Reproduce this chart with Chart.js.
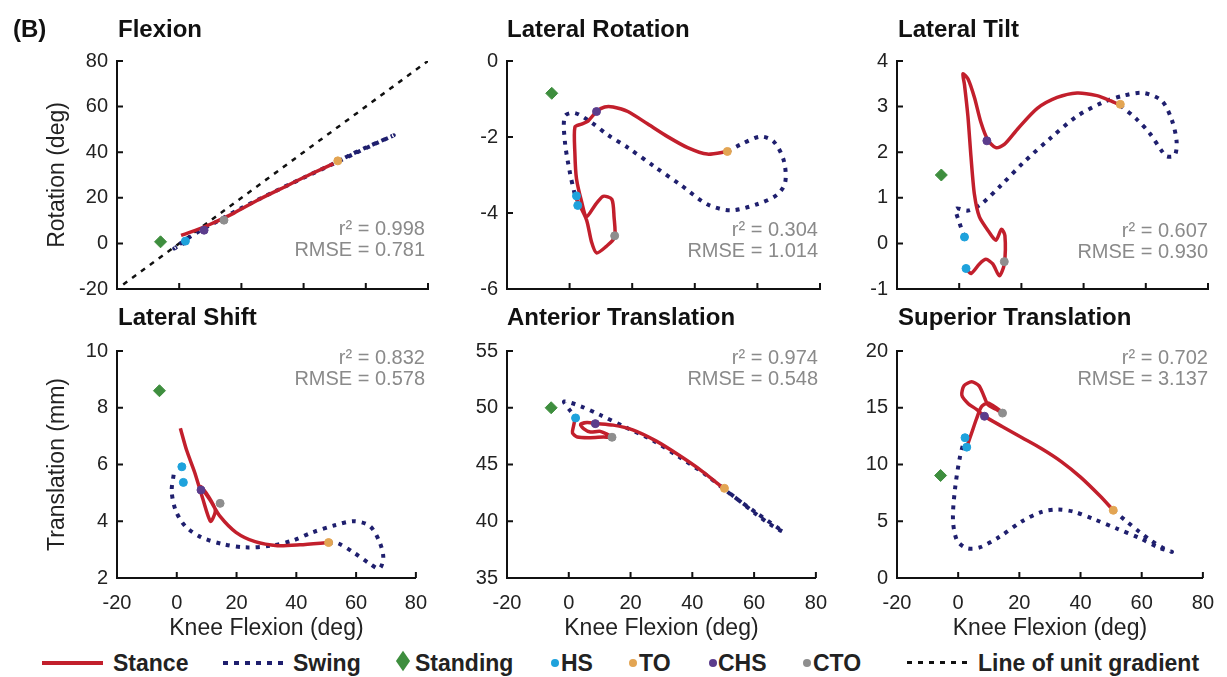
<!DOCTYPE html>
<html>
<head>
<meta charset="utf-8">
<script src="https://cdn.jsdelivr.net/npm/chart.js@4.4.1/dist/chart.umd.min.js"></script>
<style>
  body { margin: 0; background: #fff; font-family: "Liberation Sans", Arial, sans-serif; }
  #wrap { position: relative; width: 1227px; height: 677px; overflow: hidden; }
  canvas { position: absolute; }
  .ttl { position: absolute; font-weight: bold; font-size: 24px; line-height: 28px; color: #111; white-space: nowrap; }
  .stat { position: absolute; font-size: 20px; line-height: 21px; color: #8a8a8a; text-align: right; white-space: nowrap; }
  .lg { position: absolute; top: 650px; height: 26px; line-height: 26px; font-size: 23px; font-weight: bold; color: #222; white-space: nowrap; }
  .sw { position: absolute; }
</style>
</head>
<body>
<div id="wrap"></div>
<script>
// ---- data ----
const panelTitles = ['Flexion', 'Lateral Rotation', 'Lateral Tilt', 'Lateral Shift', 'Anterior Translation', 'Superior Translation'];
const xTicks = [-20, 0, 20, 40, 60, 80];
const yTicks = [
  [-20, 0, 20, 40, 60, 80],
  [-6, -4, -2, 0],
  [-1, 0, 1, 2, 3, 4],
  [2, 4, 6, 8, 10],
  [35, 40, 45, 50, 55],
  [0, 5, 10, 15, 20]
];
const r2Vals = ['0.998', '0.304', '0.607', '0.832', '0.974', '0.702'];
const rmseVals = ['0.781', '1.014', '0.930', '0.578', '0.548', '3.137'];

const unitLine = [[-18, -18], [80, 80]];

const flexStance = [[0.6,3.5],[5,5.6],[10,8.4],[17.6,13.3],[25,18.8],[35,25.5],[42,30.2],[49.6,35]];
const flexSwing = [[50.5,35.6],[55,38.8],[60,42],[65,45],[69,47.4],[64,44.3],[57,39.8],[50,35.2],[40,28.8],[30,22.3],[20,15.5],[12,9.5],[6,5],[2,1.5],[-1.6,-2.2],[0.5,-0.5],[2,0.3]];

const latRotStance = [[2.2,-3.64],[5.4,-4.18],[7.0,-4.76],[8.6,-5.05],[11.7,-4.88],[14.4,-4.64],[14.2,-4.1],[13.5,-3.64],[10.7,-3.56],[8.0,-3.81],[5.4,-4.1],[3.8,-3.69],[2.2,-3.1],[1.7,-2.45],[1.7,-1.74],[3.8,-1.66],[5.9,-1.58],[8.6,-1.33],[11.2,-1.21],[13.9,-1.21],[18.6,-1.33],[25,-1.66],[31.3,-1.99],[37.7,-2.28],[44,-2.45],[50.4,-2.38]];
const latRotSwing = [[50.4,-2.38],[54.6,-2.2],[61,-1.99],[65.2,-2.12],[68.4,-2.61],[68.9,-3.19],[66.3,-3.52],[59.9,-3.77],[51.4,-3.93],[44,-3.77],[35.6,-3.27],[27.1,-2.78],[18.6,-2.28],[12.3,-1.95],[7.0,-1.62],[1.7,-1.37],[-1.5,-1.45],[-1.5,-2.12],[0.1,-2.94],[1.7,-3.52],[2.2,-3.64]];

const latTiltStance = [[2.2,-0.55],[3.8,-0.66],[6.5,-0.45],[8.6,-0.35],[10.8,-0.45],[12.9,-0.71],[14.5,-0.45],[14.7,0.17],[13.6,0.31],[11.8,0.07],[9.7,0.24],[6.5,0.58],[4.9,1.07],[3.8,1.89],[2.8,2.79],[1.7,3.48],[1.2,3.72],[2.8,3.61],[4.9,3.2],[7.0,2.65],[9.2,2.27],[11.8,2.1],[14.5,2.17],[18.8,2.51],[25.1,2.96],[31.5,3.2],[37.9,3.3],[44.3,3.24],[48.6,3.13],[51.8,3.03]];
const latTiltSwing = [[51.8,3.03],[57.1,2.72],[61.3,2.41],[65.1,2.03],[66.7,1.91],[69.3,1.93],[69.9,2.24],[68.3,2.72],[65.1,3.13],[59.2,3.3],[52.8,3.24],[46.4,3.1],[37.9,2.79],[29.4,2.31],[20.9,1.79],[13.4,1.27],[7.0,0.86],[2.8,0.72],[-1.0,0.76],[0.1,0.45],[1.7,0.14]];

const latShiftStance = [[1.2,7.28],[3.3,6.5],[6.0,5.72],[8.6,4.83],[11.3,4.0],[12.9,4.39],[10.2,4.94],[8.1,5.22],[11.3,4.72],[14.5,4.17],[19.8,3.61],[26.2,3.28],[33.7,3.14],[41.2,3.17],[50.8,3.25]];
const latShiftSwing = [[50.8,3.25],[54,3.22],[59.3,2.89],[64.6,2.5],[67.8,2.33],[69.1,2.72],[67.8,3.28],[64.6,3.83],[59.3,4.0],[52.9,3.86],[45.4,3.61],[39,3.33],[31.6,3.14],[23,3.08],[15.6,3.19],[8.1,3.44],[2.8,3.83],[-0.4,4.39],[-1.7,5.06],[-1.0,5.67]];

const antStance = [[2.2,49.2],[1.5,48.33],[1.2,47.78],[2.8,47.42],[7.0,47.36],[11.2,47.42],[13.9,47.42],[10.2,47.92],[7.0,47.86],[4.9,48.14],[3.8,48.53],[5.9,48.69],[9.1,48.61],[14.4,48.47],[20.7,48.05],[28.2,47.08],[35.6,45.83],[43,44.44],[49.8,42.97]];
const antSwing = [[49.8,42.97],[54.6,41.94],[61,40.55],[65.2,39.72],[69.4,39.08],[61,40.69],[52.5,42.36],[44,44.17],[35.6,45.69],[27.1,47.14],[18.6,48.25],[10.2,49.36],[3.8,50.14],[-1.5,50.55],[0.1,49.86],[2.2,49.2]];

const supStance = [[2.8,11.53],[4.4,12.78],[6.0,14.03],[7.6,15.08],[9.7,15.42],[12.4,15.0],[14.5,14.53],[12.4,14.86],[9.7,15.28],[8.3,16.11],[6.8,16.94],[4.4,17.28],[1.9,16.94],[1.2,16.11],[3.3,15.36],[6.0,14.86],[8.6,14.25],[14.5,13.33],[20.9,12.36],[27.3,11.39],[33.6,10.28],[40,8.89],[46.4,7.22],[50.7,5.97]];
const supSwing = [[50.7,5.97],[55,5.0],[59.2,4.08],[62.9,3.33],[66.7,2.69],[69.9,2.3],[65.5,2.69],[59.2,3.53],[51.8,4.36],[44.3,5.19],[37.9,5.83],[32.6,6.03],[27.3,5.83],[20.9,5.0],[13.4,3.61],[7.0,2.69],[2.8,2.64],[-0.4,3.33],[-1.7,5.14],[-1.0,7.92],[0.6,10.69],[2.24,12.36]];

const stanceSets = [flexStance, latRotStance, latTiltStance, latShiftStance, antStance, supStance];
const swingSets = [flexSwing, latRotSwing, latTiltSwing, latShiftSwing, antSwing, supSwing];

// gait events, one list per panel
const standingPts = [[[-6,0.7]], [[-5.7,-0.85]], [[-5.75,1.5]], [[-5.8,8.6]], [[-5.7,50]], [[-5.75,9.03]]];
const hsPts = [[[2,1.0]], [[2.2,-3.55],[2.6,-3.8]], [[1.7,0.14],[2.2,-0.55]], [[1.7,5.92],[2.2,5.37]], [[2.2,49.1]], [[2.24,12.36],[2.8,11.53]]];
const toPts = [[[51,36.2]], [[50.4,-2.38]], [[51.8,3.05]], [[50.8,3.25]], [[50.4,42.9]], [[50.7,5.97]]];
const chsPts = [[[8,5.8]], [[8.6,-1.33]], [[8.9,2.25]], [[8.1,5.1]], [[8.6,48.6]], [[8.6,14.25]]];
const ctoPts = [[[14.4,10.2]], [[14.4,-4.6]], [[14.5,-0.4]], [[14.5,4.63]], [[14,47.4]], [[14.5,14.53]]];

// ---- styles / layout ----
const C = {
  stance: '#c21f2c', swing: '#1f1f6e', unit: '#111',
  standing: '#3e8e3e', hs: '#1ea2dc', to: '#e3a553', chs: '#5b3c8c', cto: '#8e8e8e'
};
const FONT = '"Liberation Sans", Arial, sans-serif';
// canvas boxes: left, top, width, height, y-axis width, right pad
const boxes = [
  [0, 40, 440, 270, 117, 12], [440, 40, 400, 270, 67, 20], [830, 40, 397, 270, 67, 19],
  [0, 330, 440, 314, 117, 12], [440, 330, 400, 314, 67, 20], [830, 330, 397, 314, 67, 19]
];
const titlePos = [[118, 15], [507, 15], [898, 15], [118, 303], [507, 303], [898, 303]];
const statPos = [[425, 218], [818, 219], [1208, 220], [425, 347], [818, 347], [1208, 347]];

const wrap = document.getElementById('wrap');

const inwardTicks = {
  id: 'inwardTicks',
  beforeDatasetsDraw(chart) {
    const { ctx, chartArea: a, scales: { x, y } } = chart;
    ctx.save();
    ctx.strokeStyle = '#111';
    ctx.lineWidth = 2;
    ctx.beginPath();
    x.ticks.forEach(t => { const p = x.getPixelForValue(t.value); ctx.moveTo(p, a.bottom); ctx.lineTo(p, a.bottom - 6); });
    y.ticks.forEach(t => { const p = y.getPixelForValue(t.value); ctx.moveTo(a.left, p); ctx.lineTo(a.left + 6, p); });
    ctx.stroke();
    ctx.restore();
  }
};

function pts(arr) { return arr.map(([x, y]) => ({ x, y })); }

function marker(label, data, color, style, r) {
  return { label, data: pts(data), showLine: false, pointStyle: style, pointRadius: r,
    pointBackgroundColor: color, pointBorderColor: color, pointBorderWidth: 1 };
}

function makePanel(i) {
  const [left, top, w, h, yw, rp] = boxes[i];
  const bottomRow = i >= 3;
  const cv = document.createElement('canvas');
  cv.width = w; cv.height = h;
  cv.style.left = left + 'px'; cv.style.top = top + 'px';
  wrap.appendChild(cv);

  const yt = yTicks[i];
  const datasets = [
    marker('CTO', ctoPts[i], C.cto, 'circle', 4),
    marker('CHS', chsPts[i], C.chs, 'circle', 4),
    marker('TO', toPts[i], C.to, 'circle', 4),
    marker('HS', hsPts[i], C.hs, 'circle', 4),
    marker('Standing', standingPts[i], C.standing, 'rectRot', 6),
    { label: 'Stance', data: pts(stanceSets[i]), showLine: true, pointRadius: 0,
      borderColor: C.stance, borderWidth: 3.5, tension: 0.25 },
    { label: 'Swing', data: pts(swingSets[i]), showLine: true, pointRadius: 0,
      borderColor: C.swing, borderWidth: 4, borderDash: [4, 6], tension: 0.3 }
  ];
  if (i === 0) {
    datasets.push({ label: 'Line of unit gradient', data: pts(unitLine), showLine: true, pointRadius: 0,
      borderColor: C.unit, borderWidth: 2.5, borderDash: [5, 6] });
  }

  new Chart(cv, {
    type: 'scatter',
    data: { datasets },
    options: {
      responsive: false,
      animation: false,
      events: [],
      layout: { padding: { top: 8, right: rp, left: 0, bottom: 0 } },
      plugins: { legend: { display: false }, tooltip: { enabled: false } },
      scales: {
        x: {
          type: 'linear', position: 'bottom',
          min: xTicks[0], max: xTicks[xTicks.length - 1],
          ticks: { display: bottomRow, stepSize: xTicks[1] - xTicks[0], padding: 13,
            color: '#222', font: { family: FONT, size: 20 }, maxRotation: 0 },
          grid: { display: false, drawTicks: false },
          border: { display: true, color: '#111', width: 2 },
          title: { display: bottomRow, text: 'Knee Flexion (deg)', color: '#222',
            font: { family: FONT, size: 23 }, padding: { top: 0, bottom: 2 } },
          afterFit: s => { s.height = bottomRow ? 66 : 20; }
        },
        y: {
          min: yt[0], max: yt[yt.length - 1],
          ticks: { stepSize: yt[1] - yt[0], padding: 9, color: '#222', font: { family: FONT, size: 20 } },
          grid: { display: false, drawTicks: false },
          border: { display: true, color: '#111', width: 2 },
          title: { display: i === 0 || i === 3, text: i === 0 ? 'Rotation (deg)' : 'Translation (mm)',
            color: '#222', font: { family: FONT, size: 23 }, padding: { top: 44, bottom: 0 } },
          afterFit: s => { s.width = yw; }
        }
      }
    },
    plugins: [inwardTicks]
  });

  const t = document.createElement('div');
  t.className = 'ttl';
  t.style.left = titlePos[i][0] + 'px'; t.style.top = titlePos[i][1] + 'px';
  t.textContent = panelTitles[i];
  wrap.appendChild(t);

  const st = document.createElement('div');
  st.className = 'stat';
  st.style.right = (1227 - statPos[i][0]) + 'px'; st.style.top = statPos[i][1] + 'px';
  st.innerHTML = 'r² = ' + r2Vals[i] + '<br>RMSE = ' + rmseVals[i];
  wrap.appendChild(st);
}

for (let i = 0; i < 6; i++) makePanel(i);

// panel label
const lab = document.createElement('div');
lab.className = 'ttl';
lab.style.left = '13px'; lab.style.top = '15px';
lab.textContent = '(B)';
wrap.appendChild(lab);

// ---- legend ----
function addText(txt, x) {
  const d = document.createElement('div');
  d.className = 'lg'; d.style.left = x + 'px'; d.textContent = txt;
  wrap.appendChild(d);
}
function addSwatch(css) {
  const d = document.createElement('div');
  d.className = 'sw';
  Object.assign(d.style, css);
  wrap.appendChild(d);
}
const dotCss = (cx, color) => ({ left: (cx - 4) + 'px', top: '659px', width: '8px', height: '8px', borderRadius: '50%', background: color });

addSwatch({ left: '42px', top: '661px', width: '61px', height: '4px', background: C.stance });
addText('Stance', 113);
addSwatch({ left: '223px', top: '661px', width: '64px', height: '4px',
  background: `repeating-linear-gradient(90deg, ${C.swing} 0 5px, transparent 5px 11px)` });
addText('Swing', 293);
addSwatch({ left: '398px', top: '656px', width: '10px', height: '10px', background: C.standing,
  transform: 'scaleY(1.45) rotate(45deg)' });
addText('Standing', 415);
addSwatch(dotCss(555, C.hs)); addText('HS', 561);
addSwatch(dotCss(633, C.to)); addText('TO', 639);
addSwatch(dotCss(713, C.chs)); addText('CHS', 718);
addSwatch(dotCss(807, C.cto)); addText('CTO', 813);
addSwatch({ left: '907px', top: '661px', width: '66px', height: '3px',
  background: `repeating-linear-gradient(90deg, ${C.unit} 0 5px, transparent 5px 11px)` });
addText('Line of unit gradient', 978);
</script>
</body>
</html>
